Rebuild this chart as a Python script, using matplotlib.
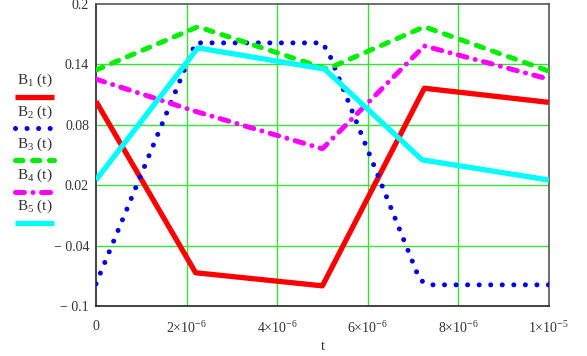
import matplotlib.pyplot as plt
from matplotlib.lines import Line2D

plt.rcParams['font.family'] = ['Liberation Serif', 'DejaVu Serif']
plt.rcParams['mathtext.fontset'] = 'custom'
plt.rcParams['mathtext.rm'] = 'Liberation Serif'
plt.rcParams['mathtext.it'] = 'Liberation Serif'

# data
t1 = [0, 2.2e-6, 5.0e-6, 7.25e-6, 1e-5]
b1 = [0.103, -0.067, -0.080, 0.116, 0.102]

t2 = [0, 2.2e-6, 5.0e-6, 5.15e-6, 7.15e-6, 7.35e-6, 1e-5]
b2 = [-0.078, 0.161, 0.161, 0.150, -0.074, -0.079, -0.079]

t3 = [0, 2.25e-6, 5.1e-6, 7.25e-6, 1e-5]
b3 = [0.134, 0.177, 0.135, 0.177, 0.133]

t4 = [0, 2.2e-6, 5.0e-6, 7.25e-6, 1e-5]
b4 = [0.125, 0.093, 0.056, 0.158, 0.125]

t5 = [0, 2.25e-6, 5.05e-6, 7.2e-6, 1e-5]
b5 = [0.025, 0.156, 0.135, 0.045, 0.025]

yticks = [0.2, 0.14, 0.08, 0.02, -0.04, -0.1]
ylabels = ['0.2', '0.14', '0.08', '0.02', '\u2212 0.04', '\u2212 0.1']
xticks = [0, 2e-6, 4e-6, 6e-6, 8e-6, 1e-5]
xlabels = ['0', r'2$\times$10$^{-6}$', r'4$\times$10$^{-6}$', r'6$\times$10$^{-6}$',
           r'8$\times$10$^{-6}$', r'1$\times$10$^{-5}$']

names = ['B$_{1}$ (t)', 'B$_{2}$ (t)', 'B$_{3}$ (t)', 'B$_{4}$ (t)', 'B$_{5}$ (t)']

fig = plt.figure(figsize=(5.87, 3.56), dpi=100)
ax = fig.add_axes([0.1635, 0.1404, 0.7715, 0.8496])

grid_c = '#33e633'
for x in xticks[1:-1]:
    ax.axvline(x, color=grid_c, lw=1, zorder=1)
for y in yticks[1:-1]:
    ax.axhline(y, color=grid_c, lw=1, zorder=1)

styles = [
    dict(color='#ff0000', lw=3.8, ls='-', solid_capstyle='butt'),
    dict(color='#0000ee', lw=3.6, ls=(0, (0.01, 2.3)), dash_capstyle='round'),
    dict(color='#00ee00', lw=3.6, ls=(0, (1.5, 1.9)), dash_capstyle='round'),
    dict(color='#ff00ff', lw=3.6, ls=(0, (1.8, 1.7, 0.01, 1.7)), dash_capstyle='round'),
    dict(color='#00ffff', lw=3.8, ls='-', solid_capstyle='butt'),
]

series = [(t1, b1), (t2, b2), (t3, b3), (t4, b4), (t5, b5)]
for (tt, bb), st in zip(series, styles):
    ax.plot(tt, bb, zorder=3, **st)

ax.set_xlim(0, 1e-5)
ax.set_ylim(-0.1, 0.2)
ax.set_yticks(yticks)
ax.set_yticklabels(ylabels)
ax.set_xticks(xticks)
ax.set_xticklabels(xlabels)
ax.tick_params(length=0, labelsize=10, colors='#333333')
ax.tick_params(axis='x', pad=10)
ax.tick_params(axis='y', pad=5)
ax.set_xlabel('t', fontsize=10, color='#333333', labelpad=3)
for s in ax.spines.values():
    s.set_color('#555555')
    s.set_linewidth(1.2)
ax.spines['left'].set_color('#222222')
ax.spines['bottom'].set_color('#222222')

# legend block on the left
W, H = 587, 356
label_y = [80, 112, 144, 175, 206]
line_y = [97, 128, 160, 192, 223]
for name, ly, sy, st in zip(names, label_y, line_y, styles):
    fig.text(35 / W, 1 - ly / H, name, ha='center', va='center',
             fontsize=11, color='#333333')
    fig.add_artist(Line2D([15 / W, 54 / W], [1 - sy / H, 1 - sy / H],
                          transform=fig.transFigure, **st))

fig.savefig('out.png', dpi=100)
